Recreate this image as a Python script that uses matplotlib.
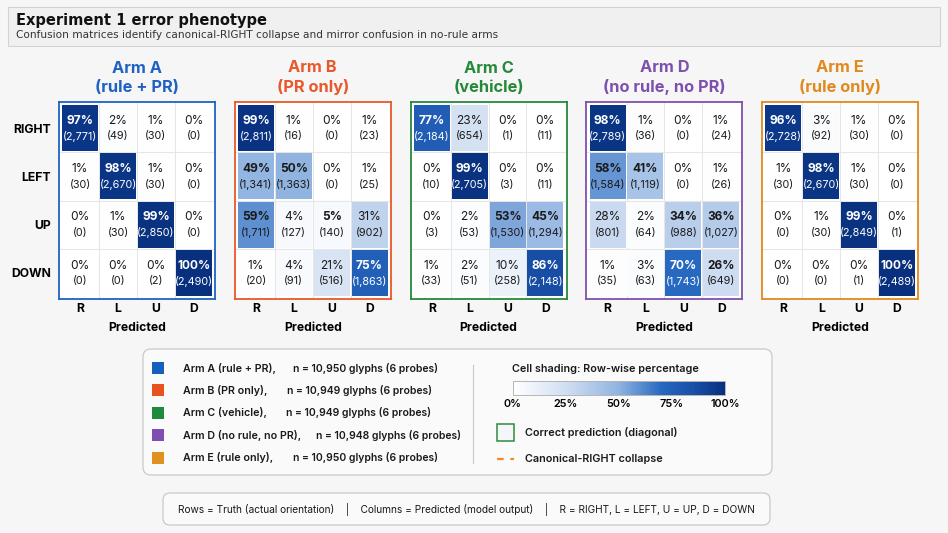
import matplotlib

matplotlib.use("Agg")
import matplotlib.pyplot as plt
import numpy as np
from matplotlib.cm import ScalarMappable
from matplotlib.colors import LinearSegmentedColormap, Normalize
from matplotlib.patches import FancyBboxPatch, Rectangle

plt.rcParams["font.family"] = ["Inter", "DejaVu Sans"]

# ---- data ----
ARM_NAMES = ["Arm A", "Arm B", "Arm C", "Arm D", "Arm E"]
ARM_CONDITIONS = ["rule + PR", "PR only", "vehicle", "no rule, no PR", "rule only"]
ARM_COLORS = ["#1f62c4", "#e8582a", "#25893a", "#7e50ad", "#e08a1e"]
SWATCH_COLORS = ["#1560bd", "#e8521f", "#1f8a3c", "#7e4fb0", "#e0901e"]
ARM_N = ["10,950", "10,949", "10,949", "10,948", "10,950"]
TRUTH_LABELS = ["RIGHT", "LEFT", "UP", "DOWN"]
PRED_LABELS = ["R", "L", "U", "D"]

COUNTS_A = [[2771, 49, 30, 0], [30, 2670, 30, 0], [0, 30, 2850, 0], [0, 0, 2, 2490]]
COUNTS_B = [[2811, 16, 0, 23], [1341, 1363, 0, 25], [1711, 127, 140, 902], [20, 91, 516, 1863]]
COUNTS_C = [[2184, 654, 1, 11], [10, 2705, 3, 11], [3, 53, 1530, 1294], [33, 51, 258, 2148]]
COUNTS_D = [[2789, 36, 0, 24], [1584, 1119, 0, 26], [801, 64, 988, 1027], [35, 63, 1743, 649]]
COUNTS_E = [[2728, 92, 30, 0], [30, 2670, 30, 0], [0, 30, 2849, 1], [0, 0, 1, 2489]]
ALL_COUNTS = [COUNTS_A, COUNTS_B, COUNTS_C, COUNTS_D, COUNTS_E]

CBAR_TICKS = [0, 25, 50, 75, 100]
FOOTER = ("Rows = Truth (actual orientation)    |    Columns = Predicted (model output)"
          "    |    R = RIGHT, L = LEFT, U = UP, D = DOWN")

W, H = 948, 533
CMAP = LinearSegmentedColormap.from_list(
    "rowpct",
    [(0.0, "#ffffff"), (0.25, "#d0def2"), (0.5, "#8fb3e0"), (0.7, "#2768c0"),
     (0.85, "#1950a8"), (1.0, "#08307f")],
)
NORM = Normalize(0, 100)


def px_rect(x, y, w, h):
    return [x / W, 1 - (y + h) / H, w / W, h / H]


fig = plt.figure(figsize=(W / 100, H / 100), dpi=100)
fig.patch.set_facecolor("#f6f6f6")

# background canvas in pixel units for boxes and captions
bg = fig.add_axes([0, 0, 1, 1])
bg.set_xlim(0, W)
bg.set_ylim(H, 0)
bg.axis("off")

bg.add_patch(Rectangle((8, 7), 932, 39, facecolor="#f0f0f0", edgecolor="#d2d2d2", linewidth=0.8))
bg.text(16, 20, "Experiment 1 error phenotype", fontsize=10.5, fontweight="bold",
        family="DejaVu Sans", va="center", color="#111111")
bg.text(16, 35, "Confusion matrices identify canonical-RIGHT collapse and mirror confusion in no-rule arms",
        fontsize=7.6, family="DejaVu Sans", va="center", color="#333333")

# ---- confusion matrices ----
box_top, box_h, box_w = 102, 197, 156
for k, counts in enumerate(ALL_COUNTS):
    counts = np.array(counts, dtype=float)
    pct = 100 * counts / counts.sum(axis=1, keepdims=True)
    color = ARM_COLORS[k]
    left = 59 + k * 175.8
    ax = fig.add_axes(px_rect(left, box_top, box_w, box_h))
    ax.set_facecolor("white")
    ax.set_xlim(-0.06, 4.06)
    ax.set_ylim(4.04, -0.04)
    for s in ax.spines.values():
        s.set_edgecolor(color)
        s.set_linewidth(1.3)
    for g in (1, 2, 3):
        ax.axvline(g, color="#e6e6e6", linewidth=0.8, zorder=1)
        ax.axhline(g, color="#e6e6e6", linewidth=0.8, zorder=1)
    gap = 0.025
    for i in range(4):
        for j in range(4):
            p = pct[i, j]
            ax.add_patch(Rectangle((j + gap, i + gap), 1 - 2 * gap, 1 - 2 * gap,
                                   facecolor=CMAP(NORM(p)), edgecolor="none", zorder=2))
            tc = "white" if p > 60 else "#1a1a1a"
            weight = "bold" if (i == j or p >= 35) else "normal"
            ax.text(j + 0.5, i + 0.35, f"{p:.0f}%", ha="center", va="center", fontsize=8.6,
                    color=tc, fontweight=weight, zorder=3)
            ax.text(j + 0.5, i + 0.67, f"({int(counts[i, j]):,})", ha="center", va="center",
                    fontsize=7.8, color=tc, zorder=3)
    ax.set_xticks(np.arange(4) + 0.5)
    ax.set_xticklabels(PRED_LABELS, fontsize=8.8, fontweight="bold")
    ax.tick_params(length=0, pad=3)
    ax.set_xlabel("Predicted", fontsize=8.8, fontweight="bold", labelpad=5)
    if k == 0:
        ax.set_yticks(np.arange(4) + 0.5)
        ax.set_yticklabels(TRUTH_LABELS, fontsize=8.8, fontweight="bold")
        ax.tick_params(axis="y", pad=6)
    else:
        ax.set_yticks([])
    ax.set_title(f"{ARM_NAMES[k]}\n({ARM_CONDITIONS[k]})", color=color, fontsize=11.8,
                 fontweight="bold", linespacing=1.35, pad=7)

# ---- legend panel ----
bg.add_patch(FancyBboxPatch((143, 349), 629, 126, boxstyle="round,pad=0,rounding_size=8",
                            facecolor="#fafafa", edgecolor="#c9c9c9", linewidth=0.9))
n_offsets = [110, 104, 103, 133, 110]
for k, name in enumerate(ARM_NAMES):
    y = 368 + k * 22.4
    bg.add_patch(Rectangle((152, y - 6), 12, 12, facecolor=SWATCH_COLORS[k], edgecolor="none"))
    bg.text(183, y, f"{name} ({ARM_CONDITIONS[k]}),", fontsize=7.7, fontweight="semibold",
            va="center", color="#1a1a1a")
    bg.text(183 + n_offsets[k], y, f"n = {ARM_N[k]} glyphs (6 probes)",
            fontsize=7.5, fontweight="semibold", va="center", color="#1a1a1a")
bg.plot([473, 473], [365, 463], color="#c9c9c9", linewidth=0.8)

bg.text(512, 369, "Cell shading: Row-wise percentage", fontsize=7.8, fontweight="semibold",
        va="center", color="#1a1a1a")
cax = fig.add_axes(px_rect(513, 381, 212, 14))
cb = fig.colorbar(ScalarMappable(norm=NORM, cmap=CMAP), cax=cax, orientation="horizontal")
cb.set_ticks(CBAR_TICKS)
cb.set_ticklabels([f"{t}%" for t in CBAR_TICKS])
cb.ax.tick_params(length=0, labelsize=7.8, pad=3)
for lab in cb.ax.get_xticklabels():
    lab.set_fontweight("semibold")
cb.outline.set_edgecolor("#b5b5b5")
cb.outline.set_linewidth(0.7)

bg.add_patch(Rectangle((497, 424), 17, 17, facecolor="#f4f6fa", edgecolor="#2e8b3e", linewidth=1.1))
bg.text(525, 433, "Correct prediction (diagonal)", fontsize=7.8, fontweight="semibold",
        va="center", color="#1a1a1a")
bg.plot([497, 514], [459, 459], color="#f08a24", linewidth=1.6, linestyle=(0, (3, 3)))
bg.text(525, 459, "Canonical-RIGHT collapse", fontsize=7.8, fontweight="semibold",
        va="center", color="#1a1a1a")

# ---- footer ----
bg.add_patch(FancyBboxPatch((163, 493), 607, 32, boxstyle="round,pad=0,rounding_size=7",
                            facecolor="#fafafa", edgecolor="#c9c9c9", linewidth=0.9))
bg.text(466, 509, FOOTER, fontsize=7.3, ha="center", va="center", color="#1a1a1a")

fig.savefig("out.png", dpi=100, facecolor=fig.get_facecolor())
